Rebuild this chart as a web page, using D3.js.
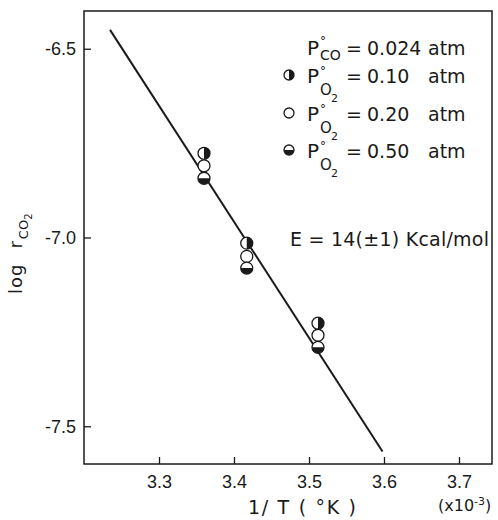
<!DOCTYPE html>
<html><head><meta charset="utf-8">
<script src="https://cdn.jsdelivr.net/npm/d3@7"></script>
<style>
body{margin:0;background:#fff}
text{font-family:"DejaVu Sans",sans-serif;fill:#1a1a1a}
.tick text{font-family:"Liberation Sans",sans-serif;font-size:18px;fill:#1a1a1a}
</style>
</head><body><svg id="c" width="498" height="520"></svg>
<script>
// data
const invT = [3.36, 3.417, 3.512];              // 1/T (x10^-3 K^-1)
const logR_O2_010 = [-6.777, -7.015, -7.227];   // P°O2 = 0.10 atm
const logR_O2_020 = [-6.810, -7.050, -7.259];   // P°O2 = 0.20 atm
const logR_O2_050 = [-6.843, -7.081, -7.291];   // P°O2 = 0.50 atm
const fitInvT = [3.2347, 3.598];
const fitLogR = [-6.450, -7.567];
const xTicks = [3.3, 3.4, 3.5, 3.6, 3.7];
const xTickLabels = ["3.3", "3.4", "3.5", "3.6", "3.7"];
const yTicks = [-6.5, -7.0, -7.5];
const yTickLabels = ["-6.5", "-7.0", "-7.5"];
const legendValues = ["0.10", "0.20", "0.50"];
const markerKinds = ["right", "open", "bottom"];

const svg = d3.select("#c");
svg.append("rect").attr("width",498).attr("height",520).attr("fill","#fff");
const L=84, R=492, T=11, B=464;
const x = d3.scaleLinear([3.2, 3.744], [L, R]);
const y = d3.scaleLinear([-6.4, -7.6], [T, B]);
const ink = "#1a1a1a";

// frame
svg.append("rect").attr("x",L).attr("y",T).attr("width",R-L).attr("height",B-T)
  .attr("fill","none").attr("stroke",ink).attr("stroke-width",1.5);

const xa = svg.append("g").attr("transform",`translate(0,${B})`)
  .call(d3.axisBottom(x).tickValues(xTicks).tickFormat((d,i)=>xTickLabels[i]).tickSize(-7).tickPadding(11));
const ya = svg.append("g").attr("transform",`translate(${L},0)`)
  .call(d3.axisLeft(y).tickValues(yTicks).tickFormat((d,i)=>yTickLabels[i]).tickSize(-7).tickPadding(8));
[xa,ya].forEach(a=>{a.select(".domain").remove(); a.selectAll(".tick line").attr("stroke",ink).attr("stroke-width",1.3);});

// fit line
svg.append("path")
  .attr("d", d3.line()(fitInvT.map((v,i)=>[x(v), y(fitLogR[i])])))
  .attr("stroke",ink).attr("stroke-width",2).attr("fill","none");

// markers
function marker(g, cx, cy, r, kind){
  const m = g.append("g").attr("transform",`translate(${cx},${cy})`);
  m.append("circle").attr("r",r).attr("fill","#fff");
  if(kind==="right") m.append("path").attr("d", d3.arc()({innerRadius:0,outerRadius:r,startAngle:0,endAngle:Math.PI})).attr("fill",ink);
  if(kind==="bottom") m.append("path").attr("d", d3.arc()({innerRadius:0,outerRadius:r,startAngle:Math.PI/2,endAngle:3*Math.PI/2})).attr("fill",ink);
  m.append("circle").attr("r",r).attr("fill","none").attr("stroke",ink).attr("stroke-width",1.3);
}
const seriesVals = [logR_O2_010, logR_O2_020, logR_O2_050];
const pts = svg.append("g");
seriesVals.forEach((vals,s)=>vals.forEach((v,i)=>marker(pts, x(invT[i]), y(v), 6, markerKinds[s])));

// legend
const lg = svg.append("g");
function pLabel(base, sub){
  const t = lg.append("text").attr("x",307).attr("y",base).attr("font-size",20);
  t.append("tspan").text("P");
  if(sub==="CO"){
    t.append("tspan").attr("x",320).attr("y",base-10).attr("font-size",12).text("°");
    t.append("tspan").attr("x",320).attr("y",base+5).attr("font-size",14).text("CO");
  } else {
    t.append("tspan").attr("x",320).attr("y",base-8).attr("font-size",12).text("°");
    t.append("tspan").attr("x",320).attr("y",base+12).attr("font-size",15).text("O");
    t.append("tspan").attr("x",331).attr("y",base+19).attr("font-size",11).text("2");
  }
  lg.append("text").attr("x",346).attr("y",base).attr("font-size",19).text("=");
}
pLabel(55, "CO");
lg.append("text").attr("x",367).attr("y",55).attr("font-size",19).text("0.024");
lg.append("text").attr("x",428).attr("y",55).attr("font-size",19).text("atm");
const rowBase = [83, 121, 158];
legendValues.forEach((v,i)=>{
  marker(lg, 289, rowBase[i]-8, 5, markerKinds[i]);
  pLabel(rowBase[i], "O2");
  lg.append("text").attr("x",367).attr("y",rowBase[i]).attr("font-size",19).text(v);
  lg.append("text").attr("x",428).attr("y",rowBase[i]).attr("font-size",19).text("atm");
});

// activation energy
svg.append("text").attr("x",290).attr("y",246).attr("font-size",19)
  .attr("textLength",199).attr("lengthAdjust","spacing").text("E = 14(±1)  Kcal/mol");

// x axis title
svg.append("text").attr("x",302).attr("y",514).attr("text-anchor","middle").attr("font-size",19)
  .attr("textLength",108).attr("lengthAdjust","spacing").text("1/ T ( °K )");
const xm = svg.append("text").attr("x",438).attr("y",511).attr("font-size",16);
xm.append("tspan").text("(x10");
xm.append("tspan").attr("dy",-6).attr("font-size",11).text("-3");
xm.append("tspan").attr("dy",6).text(")");

// y axis title
const yl = svg.append("text").attr("transform","translate(22,294) rotate(-90)")
  .attr("font-size",18);
yl.append("tspan").attr("letter-spacing",1).text("log");
yl.append("tspan").attr("dx",15).text("r");
yl.append("tspan").attr("dx",2).attr("dy",6).attr("font-size",13).text("CO");
yl.append("tspan").attr("dy",4).attr("font-size",10).text("2");
</script>
</body></html>
